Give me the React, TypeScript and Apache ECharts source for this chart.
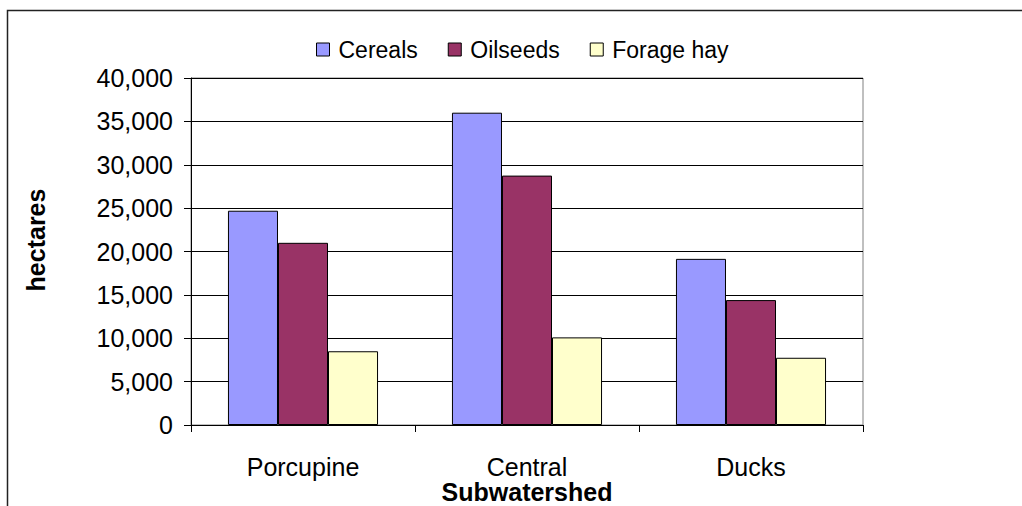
import React, { useEffect, useRef } from "react";
import * as echarts from "echarts";

const categories = ["Porcupine", "Central", "Ducks"];
const seriesNames = ["Cereals", "Oilseeds", "Forage hay"];
const cereals = [24700, 36000, 19150];
const oilseeds = [21000, 28750, 14400];
const forageHay = [8500, 10100, 7750];
const colors = ["#9999FF", "#993366", "#FFFFCC"];

export default function App() {
  const ref = useRef<HTMLDivElement>(null);
  useEffect(() => {
    if (!ref.current) return;
    const chart = echarts.init(ref.current, null, { renderer: "svg" });
    const font = "Arial, 'Liberation Sans', sans-serif";
    const values = [cereals, oilseeds, forageHay];
    chart.setOption({
      animation: false,
      backgroundColor: "#ffffff",
      textStyle: { fontFamily: font, color: "#000" },
      legend: {
        top: 33,
        left: 311,
        itemWidth: 13,
        itemHeight: 13,
        itemGap: 30,
        icon: "rect",
        textStyle: { fontSize: 23, fontFamily: font, color: "#000", padding: [0, 0, 0, 4] },
        data: seriesNames.map((n, i) => ({
          name: n,
          itemStyle: { color: colors[i], borderColor: "#000", borderWidth: 1 },
        })),
      },
      grid: {
        left: 191,
        top: 78,
        right: 159,
        bottom: 81,
        show: true,
        borderColor: "#808080",
        borderWidth: 1,
        containLabel: false,
        outerBoundsMode: "none",
      },
      xAxis: {
        type: "category",
        data: categories,
        axisLine: { lineStyle: { color: "#000", width: 1 } },
        axisTick: { show: true, length: 7, lineStyle: { color: "#000" } },
        axisLabel: { fontSize: 25, color: "#000", margin: 29, fontFamily: font },
      },
      yAxis: {
        type: "value",
        min: 0,
        max: 40000,
        interval: 5000,
        axisLine: { show: true, lineStyle: { color: "#000", width: 1 } },
        axisTick: { show: true, length: 7, lineStyle: { color: "#000" } },
        axisLabel: {
          fontSize: 25,
          color: "#000",
          margin: 18,
          fontFamily: font,
          formatter: (v: number) => v.toLocaleString("en-US"),
        },
        splitLine: { show: true, lineStyle: { color: "#000", width: 1 } },
      },
      graphic: [
        {
          type: "rect",
          shape: { x: 7.5, y: 10.5, width: 3000, height: 3000 },
          style: { fill: "none", stroke: "#222", lineWidth: 1.5 },
          silent: true,
          z: 100,
        },
        {
          type: "text",
          x: 36,
          y: 240,
          rotation: Math.PI / 2,
          style: {
            text: "hectares",
            fontSize: 25,
            fontWeight: "bold",
            fontFamily: font,
            fill: "#000",
            align: "center",
            verticalAlign: "middle",
          },
        },
        {
          type: "text",
          x: 527,
          y: 492,
          style: {
            text: "Subwatershed",
            fontSize: 25,
            fontWeight: "bold",
            fontFamily: font,
            fill: "#000",
            align: "center",
            verticalAlign: "middle",
          },
        },
      ],
      series: seriesNames.map((n, i) => ({
        name: n,
        type: "bar",
        data: values[i],
        barGap: "0%",
        barCategoryGap: "33%",
        itemStyle: { color: colors[i], borderColor: "#000", borderWidth: 1 },
      })),
    });
    return () => chart.dispose();
  }, []);
  return (
    <div
      ref={ref}
      style={{ position: "absolute", left: 0, top: 0, width: 1022, height: 506 }}
    />
  );
}
